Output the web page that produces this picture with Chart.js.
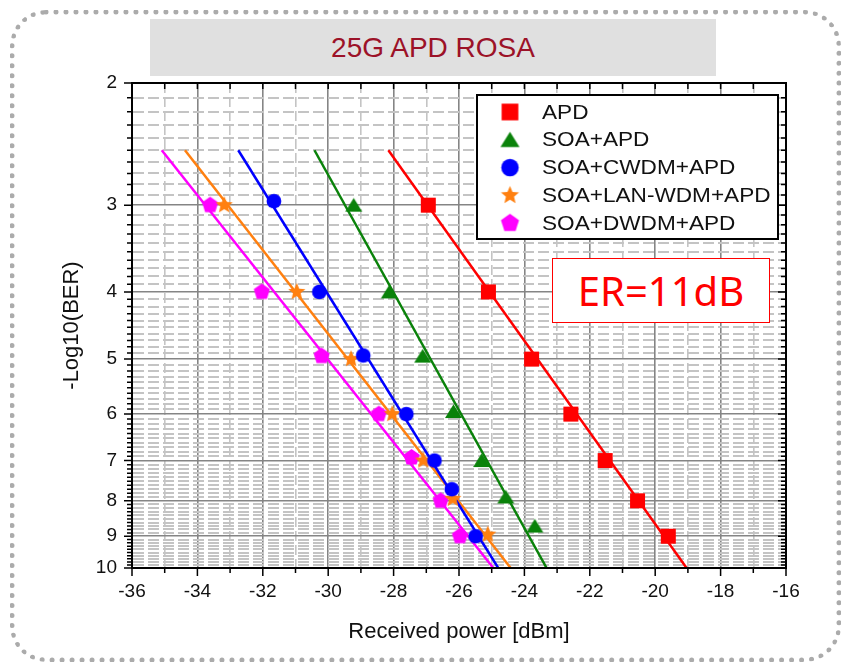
<!DOCTYPE html>
<html>
<head>
<meta charset="utf-8">
<script src="https://cdn.jsdelivr.net/npm/chart.js@4"></script>
<style>
  html, body { margin: 0; padding: 0; background: #fff; }
  body { width: 845px; height: 667px; position: relative; overflow: hidden; font-family: 'Liberation Sans', Arial, sans-serif; }
  #frame { position: absolute; left: 10px; top: 10px; width: 821px; height: 642px; border: 5px dotted #ababab; border-radius: 36px; }
  #chart { position: absolute; left: 0; top: 0; }
  #title { position: absolute; left: 150px; top: 19px; width: 566px; height: 57px; background: #e0e0e0; color: #9c1228; font-size: 28px; line-height: 57px; text-align: center; }
  #er { position: absolute; left: 552px; top: 258px; width: 216px; height: 63px; border: 1px solid #ff0000; background: #fff; color: #ff0000; font-family: 'Noto Sans', sans-serif; font-size: 40px; line-height: 63px; text-align: center; }
</style>
</head>
<body>
<div id="frame"></div>
<canvas id="chart" width="845" height="667"></canvas>
<div id="title">25G APD ROSA</div>
<div id="er">ER=11dB</div>
<script>
const seriesNames = ['APD', 'SOA+APD', 'SOA+CWDM+APD', 'SOA+LAN-WDM+APD', 'SOA+DWDM+APD']
const powerTicks = [-36, -34, -32, -30, -28, -26, -24, -22, -20, -18, -16]
const berTicks = [2, 3, 4, 5, 6, 7, 8, 9, 10]

// measured points: received power [dBm] and -log10(BER)
const apdPower = [-26.94, -25.10, -23.78, -22.58, -21.53, -20.54, -19.60]
const apdBer = [3.0, 4.0, 5.0, 6.0, 7.0, 8.0, 9.0]
const soaPower = [-29.22, -28.13, -27.11, -26.17, -25.31, -24.57, -23.68]
const soaBer = [3.0, 4.0, 4.95, 5.95, 7.0, 7.9, 8.7]
const cwdmPower = [-31.66, -30.27, -28.93, -27.61, -26.75, -26.22, -25.49]
const cwdmBer = [2.96, 4.0, 4.94, 6.0, 7.0, 7.7, 9.0]
const lanPower = [-33.18, -30.96, -29.30, -28.04, -27.09, -26.19, -25.12]
const lanBer = [3.0, 4.0, 5.0, 6.0, 7.0, 7.95, 8.95]
const dwdmPower = [-33.61, -32.03, -30.20, -28.45, -27.45, -26.56, -25.97]
const dwdmBer = [3.0, 4.0, 4.95, 6.0, 6.93, 8.0, 9.0]

// fitted lines, read at their two ends
const fitBer = [2.5, 10]
const apdFit = [-28.16, -19.04]
const soaFit = [-30.42, -23.32]
const cwdmFit = [-32.75, -24.80]
const lanFit = [-34.38, -24.42]
const dwdmFit = [-35.09, -24.95]

const colors = ['#ff0000', '#0a820a', '#0000ff', '#ff8010', '#ff00ff']
const shapes = ['square', 'triangle', 'circle', 'star', 'pentagon']
const plotSizes = [17, 17, 16, 18, 17]

const makeMarker = (shape, color, size) => {
    const s = Math.ceil(size + 2)
    const c = document.createElement('canvas')
    c.width = s
    c.height = s
    const g = c.getContext('2d')
    const m = s / 2, r = size / 2
    g.fillStyle = color
    g.beginPath()
    if (shape === 'square') {
        g.rect(m - r * 0.88, m - r * 0.88, r * 1.76, r * 1.76)
    } else if (shape === 'circle') {
        g.arc(m, m, r * 0.92, 0, Math.PI * 2)
    } else if (shape === 'triangle') {
        g.moveTo(m, m - r * 0.85)
        g.lineTo(m + r, m + r * 0.75)
        g.lineTo(m - r, m + r * 0.75)
    } else {
        const pts = shape === 'star' ? 10 : 5
        for (let k = 0; k < pts; k++) {
            const a = -Math.PI / 2 + k * 2 * Math.PI / pts
            const rr = shape === 'star' && k % 2 ? r * 0.45 : r
            g.lineTo(m + rr * Math.cos(a), m + rr * Math.sin(a))
        }
    }
    g.closePath()
    g.fill()
    return c
}

const plotMarkers = shapes.map((s, i) => makeMarker(s, colors[i], plotSizes[i]))
const legendMarkers = shapes.map((s, i) => makeMarker(s, colors[i], 19))

const toPoints = (xs, ys) => xs.map((x, i) => ({x: x, y: ys[i]}))
const measured = [[apdPower, apdBer], [soaPower, soaBer], [cwdmPower, cwdmBer], [lanPower, lanBer], [dwdmPower, dwdmBer]]
const fits = [apdFit, soaFit, cwdmFit, lanFit, dwdmFit]

const datasets = []
measured.forEach((m, i) => {
    datasets.push({
        label: seriesNames[i],
        data: toPoints(m[0], m[1]),
        showLine: false,
        pointStyle: plotMarkers[i],
        pointRadius: 7,
        order: 0,
    })
})
fits.forEach((f, i) => {
    datasets.push({
        label: seriesNames[i] + ' fit',
        data: toPoints(f, fitBer),
        showLine: true,
        borderColor: colors[i],
        borderWidth: 2.5,
        pointRadius: 0,
        order: 1,
    })
})

const isMajorX = v => powerTicks.includes(Math.round(v)) && Math.abs(v - Math.round(v)) < 1e-6
const isMajorY = v => berTicks.includes(Math.round(v)) && Math.abs(v - Math.round(v)) < 1e-6

const frameAndLegend = {
    id: 'frameAndLegend',
    afterDraw(chart) {
        const ctx = chart.ctx
        const {left, right, top, bottom} = chart.chartArea
        const xs = chart.scales.x, ys = chart.scales.y
        ctx.save()
        ctx.strokeStyle = '#000'
        ctx.lineWidth = 1.5
        ctx.beginPath()
        xs.ticks.forEach(t => {
            const px = xs.getPixelForValue(t.value)
            const len = t.major ? 8 : 5
            ctx.moveTo(px, bottom); ctx.lineTo(px, bottom + len)
            ctx.moveTo(px, top); ctx.lineTo(px, top + 6)
        })
        ys.ticks.forEach(t => {
            const py = ys.getPixelForValue(t.value)
            const len = t.major ? 8 : 5
            ctx.moveTo(left, py); ctx.lineTo(left - len, py)
            ctx.moveTo(right, py); ctx.lineTo(right - len, py)
        })
        ctx.stroke()
        ctx.lineWidth = 2
        ctx.strokeRect(left, top, right - left, bottom - top)

        // legend box
        const lx = 477, ly = 95, lw = 301, lh = 144
        ctx.fillStyle = '#fff'
        ctx.fillRect(lx, ly, lw, lh)
        ctx.strokeRect(lx, ly, lw, lh)
        ctx.font = '20px "Liberation Sans", Arial, sans-serif'
        ctx.textBaseline = 'middle'
        ctx.fillStyle = '#111'
        seriesNames.forEach((name, i) => {
            const cy = ly + 17 + i * 27.8
            const mk = legendMarkers[i]
            ctx.drawImage(mk, lx + 33 - mk.width / 2, cy - mk.height / 2)
            ctx.save()
            ctx.translate(lx + 65, cy + 1)
            ctx.scale(1.13, 1)
            ctx.fillText(name, 0, 0)
            ctx.restore()
        })
        ctx.restore()
    }
}

new Chart(document.getElementById('chart'), {
    type: 'scatter',
    data: {datasets: datasets},
    options: {
        responsive: false,
        animation: false,
        layout: {padding: {top: 83, right: 59, left: 0, bottom: 0}},
        plugins: {legend: {display: false}, tooltip: {enabled: false}},
        scales: {
            x: {
                type: 'linear',
                min: -36,
                max: -16,
                afterBuildTicks: scale => {
                    const t = []
                    for (let v = -36; v <= -16; v++) t.push({value: v, major: isMajorX(v)})
                    scale.ticks = t
                },
                afterFit: scale => { scale.height = 99 },
                ticks: {
                    autoSkip: false,
                    maxRotation: 0,
                    padding: 12,
                    color: '#111',
                    font: {family: '"Liberation Sans", Arial, sans-serif', size: 19},
                    callback: v => isMajorX(v) ? String(Math.round(v)) : '',
                },
                grid: {
                    drawTicks: false,
                    color: c => c.tick && isMajorX(c.tick.value) ? '#858585' : '#c4c4c4',
                    lineWidth: 1.6,
                },
                border: {
                    display: true,
                    color: '#000',
                    width: 2,
                    dash: c => c.tick && !isMajorX(c.tick.value) ? [10, 4] : [],
                },
                title: {
                    display: true,
                    text: 'Received power [dBm]',
                    color: '#111',
                    font: {family: '"Liberation Sans", Arial, sans-serif', size: 22},
                    padding: {top: 0, bottom: 22},
                },
            },
            y: {
                type: 'logarithmic',
                reverse: true,
                min: 2,
                max: 10,
                afterBuildTicks: scale => {
                    const t = []
                    for (let k = 20; k <= 100; k++) t.push({value: k / 10, major: k % 10 === 0})
                    scale.ticks = t
                },
                afterFit: scale => { scale.width = 132 },
                ticks: {
                    autoSkip: false,
                    padding: 15,
                    color: '#111',
                    font: {family: '"Liberation Sans", Arial, sans-serif', size: 19},
                    callback: v => isMajorY(v) ? String(Math.round(v)) : '',
                },
                grid: {
                    drawTicks: false,
                    color: c => c.tick && isMajorY(c.tick.value) ? '#858585' : '#c4c4c4',
                    lineWidth: c => c.tick && isMajorY(c.tick.value) ? 1.6 : 2,
                },
                border: {
                    display: true,
                    color: '#000',
                    width: 2,
                    dash: c => c.tick && !isMajorY(c.tick.value) ? [11, 4] : [],
                },
                title: {
                    display: true,
                    text: '-Log10(BER)',
                    color: '#111',
                    font: {family: '"Liberation Sans", Arial, sans-serif', size: 22},
                    padding: {top: 59, bottom: 0},
                },
            },
        },
    },
    plugins: [frameAndLegend],
})
</script>
</body>
</html>
